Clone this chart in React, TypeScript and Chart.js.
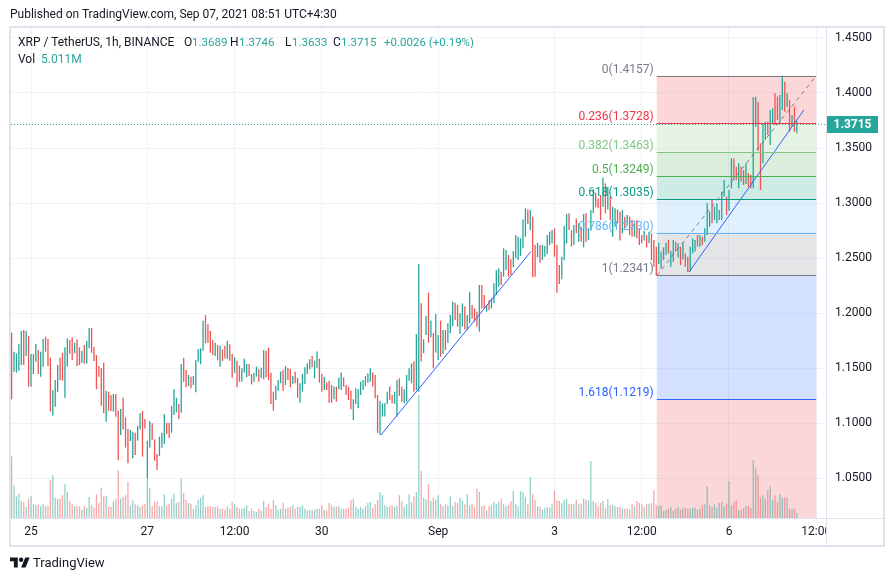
import React, { useEffect, useRef } from 'react';
import { Chart, registerables } from 'chart.js';

Chart.register(...registerables);

const GREEN = '#26a69a';
const RED = '#ef5350';
const TEXT = '#131722';
const FONT = 'Roboto, "Liberation Sans", Arial, sans-serif';

// ---- candle data (1h, index 0 = Aug 24 16:00 UTC) ----
const highs = [
  // Aug 24 16:00 .. Aug 27 02:00
  1.1821,1.1648,1.1633,1.1718,1.1836,1.1845,1.1836,1.1791,1.1627,1.1627,
  1.1718,1.1663,1.1648,1.1763,1.1785,1.1763,1.1594,1.1300,1.1391,1.1527,
  1.1594,1.1639,1.1688,1.1770,1.1754,1.1779,1.1730,1.1760,1.1688,1.1657,
  1.1709,1.1745,1.1863,1.1863,1.1694,1.1618,1.1518,1.1497,1.1548,1.1294,
  1.1285,1.1254,1.1264,1.1264,1.1112,1.1127,1.1230,1.1051,1.0945,1.0936,
  1.0921,1.0912,1.0973,1.1088,1.1109,1.1036,1.0839,1.1018,1.0997,
  // Aug 27 03:00 ..
  1.0851,1.0718,1.0876,1.0912,1.1082,1.1003,1.1003,1.1154,1.1306,1.1230,
  1.1173,1.1536,1.1594,1.1482,1.1436,1.1421,1.1427,1.1573,1.1673,1.1679,
  1.1930,1.1982,1.1897,1.1836,1.1754,1.1730,1.1709,1.1700,1.1670,1.1703,
  1.1748,1.1715,1.1627,1.1597,1.1567,1.1521,1.1497,1.1585,1.1536,1.1536,
  1.1445,1.1457,1.1512,1.1488,1.1503,1.1663,1.1657,1.1685,1.1457,1.1285,
  1.1339,1.1391,1.1467,1.1482,1.1518,1.1503,1.1491,1.1427,1.1467,1.1412,
  // Aug 29 15:00 ..
  1.1361,1.1446,1.1506,1.1543,1.1579,1.1609,1.1567,1.1649,1.1585,1.1446,
  1.1421,1.1370,1.1385,1.1346,1.1331,1.1331,1.1412,1.1458,1.1415,1.1346,
  1.1331,1.1294,1.1215,1.1315,1.1306,1.1376,1.1391,1.1427,1.1452,1.1497,
  1.1458,1.1436,1.1255,1.1203,1.1179,1.1179,1.1285,1.1331,1.1255,1.1285,
  1.1391,1.1406,1.1331,1.1306,1.1436,1.1497,1.1543,1.1558,1.1809,1.2445,
  1.2088,1.1761,1.1973,1.2185,1.1931,1.1815,1.1991,1.1800,1.1930,1.1845,
  1.1845,1.1906,
  // Sep 1 05:00 ..
  1.1982,1.2103,1.2094,1.2073,1.1997,1.2088,1.2058,1.1982,1.2194,1.2073,
  1.2042,1.2012,1.2254,1.2254,1.2164,1.2073,1.2118,1.2133,1.2270,1.2391,
  1.2406,1.2376,1.2588,1.2573,1.2527,1.2488,1.2564,1.2709,1.2694,1.2679,
  1.2851,1.2951,1.2942,1.2936,1.2876,1.2618,1.2639,1.2618,1.2618,1.2609,
  1.2709,1.2739,1.2754,1.2770,1.2618,1.2436,1.2512,1.2791,1.2900,1.2906,
  1.2754,1.2800,1.2860,1.2815,1.2785,1.2900,1.2906,1.2770,
  // Sep 3 15:00 ..
  1.2936,1.3124,1.3094,1.3042,1.3073,1.3230,1.3179,1.3148,1.3058,1.2967,
  1.2952,1.2942,1.2921,1.2936,1.2876,1.2891,1.2876,1.2845,1.2815,1.2845,
  1.2770,1.2709,1.2748,1.2709,1.2739,
  // Sep 4 16:00 ..
  1.2724,1.2664,1.2603,1.2639,1.2558,1.2597,1.2639,1.2664,1.2567,1.2664,
  1.2648,1.2633,1.2603,1.2639,1.2542,1.2512,1.2603,
  // Sep 5 09:00 .. Sep 7 04:00
  1.2679,1.2664,1.2709,1.2709,1.2694,1.2770,1.2997,1.2921,1.3027,1.2967,
  1.2997,1.2936,1.3103,1.3209,1.3058,1.3118,1.3406,1.3406,1.3330,1.3361,
  1.3330,1.3300,1.3361,1.3270,1.3255,1.3961,1.3967,1.3921,1.3542,1.3724,
  1.3739,1.3739,1.3845,1.3861,1.3997,1.3967,1.3982,1.4157,1.4103,1.3997,
  1.3936,1.3800,1.3876,1.3746,
];

const lows = [
  1.1215,1.1467,1.1457,1.1476,1.1527,1.1527,1.1609,1.1330,1.1330,1.1445,
  1.1557,1.1445,1.1421,1.1512,1.1648,1.1518,1.1103,1.1066,1.1148,1.1285,
  1.1391,1.1385,1.1230,1.1512,1.1627,1.1573,1.1633,1.1518,1.1527,1.1548,
  1.1542,1.1542,1.1679,1.1639,1.1563,1.1306,1.1421,1.1157,1.1088,1.1012,
  1.1112,1.1109,1.1103,1.1057,1.0663,1.0891,1.0942,1.0776,1.0633,1.0836,
  1.0679,1.0709,1.0839,1.0942,1.0694,1.0951,1.0500,1.0776,1.0845,
  1.0658,1.0573,1.0700,1.0776,1.0809,1.0900,1.0864,1.0912,1.1073,1.1097,
  1.1036,1.1094,1.1376,1.1324,1.1336,1.1315,1.1345,1.1279,1.1557,1.1533,
  1.1657,1.1724,1.1730,1.1639,1.1618,1.1609,1.1573,1.1512,1.1563,1.1588,
  1.1582,1.1567,1.1412,1.1457,1.1324,1.1376,1.1376,1.1457,1.1415,1.1427,
  1.1351,1.1376,1.1421,1.1376,1.1406,1.1397,1.1415,1.1391,1.1173,1.1112,
  1.1209,1.1294,1.1361,1.1294,1.1345,1.1391,1.1324,1.1354,1.1361,1.1230,
  1.1185,1.1285,1.1355,1.1446,1.1488,1.1506,1.1406,1.1497,1.1367,1.1285,
  1.1300,1.1300,1.1185,1.1185,1.1215,1.1194,1.1306,1.1300,1.1331,1.1255,
  1.1209,1.1124,1.1027,1.1173,1.1133,1.1255,1.1300,1.1336,1.1367,1.1376,
  1.1331,1.1224,1.0910,1.0890,1.1058,1.1058,1.1173,1.1209,1.1179,1.1173,
  1.1058,1.1246,1.1194,1.1179,1.1194,1.1385,1.1361,1.1285,1.1300,1.1285,
  1.1558,1.1634,1.1800,1.1731,1.1779,1.1497,1.1640,1.1573,1.1603,1.1627,
  1.1664,1.1730,
  1.1815,1.1882,1.1936,1.1876,1.1809,1.1876,1.1851,1.1845,1.1906,1.1951,
  1.1921,1.1876,1.1830,1.2042,1.2042,1.2012,1.2027,1.2042,1.2088,1.2164,
  1.2239,1.2254,1.2330,1.2391,1.2330,1.2345,1.2415,1.2497,1.2482,1.2518,
  1.2588,1.2694,1.2809,1.2754,1.2324,1.2330,1.2506,1.2457,1.2482,1.2512,
  1.2536,1.2618,1.2633,1.2512,1.2185,1.2264,1.2306,1.2482,1.2633,1.2754,
  1.2603,1.2618,1.2724,1.2648,1.2648,1.2597,1.2648,1.2664,
  1.2748,1.2906,1.2961,1.2952,1.2845,1.2967,1.2906,1.2942,1.2845,1.2694,
  1.2785,1.2815,1.2658,1.2724,1.2770,1.2800,1.2709,1.2694,1.2694,1.2679,
  1.2618,1.2633,1.2658,1.2597,1.2633,
  1.2480,1.2421,1.2341,1.2445,1.2406,1.2482,1.2527,1.2542,1.2421,1.2467,
  1.2558,1.2506,1.2436,1.2488,1.2421,1.2370,1.2380,
  1.2542,1.2558,1.2603,1.2603,1.2618,1.2648,1.2709,1.2785,1.2815,1.2845,
  1.2815,1.2845,1.2845,1.3058,1.2891,1.2930,1.3133,1.3209,1.3209,1.3133,
  1.3194,1.3164,1.3173,1.3148,1.3133,1.3133,1.3694,1.3476,1.3118,1.3361,
  1.3573,1.3618,1.3527,1.3724,1.3709,1.3755,1.3724,1.3845,1.3830,1.3876,
  1.3648,1.3694,1.3648,1.3633,
];

// 1 = close above open (green), 0 = close below open (red)
const upFlags = [
  0,1,1,1,1,0,1,0,1,1, 1,0,1,1,0,0,0,1,1,1, 0,0,1,1,0,0,1,0,0,1,
  0,1,1,0,0,0,0,0,0,1, 0,0,1,0,0,1,0,0,0,1, 1,0,1,1,0,0,1,1,0,
  0,0,1,1,1,0,0,1,1,1, 0,1,0,0,1,0,1,1,1,1, 1,0,0,0,0,1,0,1,0,0,
  1,0,0,1,0,0,1,1,1,0, 0,1,1,0,1,1,0,0,0,0, 1,1,1,0,1,0,0,1,0,0,
  1,1,1,1,1,0,1,1,0,0, 1,0,0,0,1,0,1,1,0,0, 0,0,1,1,1,1,1,1,1,1,
  0,0,0,1,1,1,1,0,0,1, 1,0,0,1,1,1,1,0,1,1, 0,1,1,0,1,0,1,1,0,1,
  0,1,
  1,1,0,0,1,1,0,1,1,0, 0,0,1,0,0,1,0,1,1,1, 1,0,1,1,0,0,1,1,1,1,
  1,1,0,1,0,0,1,0,1,1, 1,1,1,0,0,0,1,1,1,0, 0,1,0,1,0,1,0,1,
  1,1,0,0,0,1,0,1,0,1, 1,0,0,1,0,1,0,0,1,0, 0,0,1,0,1,
  0,0,0,1,1,1,1,0,1,1, 0,1,0,1,0,0,1,
  1,1,0,1,0,1,1,1,0,1, 1,1,1,1,0,1,1,0,0,1, 0,0,1,0,0,1,1,0,0,1,
  1,0,1,1,0,0,1,1,0,1, 0,1,0,1,
];

// volume, millions
const volumes = [
  61.7,32.7,21.7,24.3,16.7,16,11,19.3,21.7,13.7,
  12.7,13.7,11.7,13.7,11.7,11.7,37.7,42.7,20.3,19.3,
  19.3,22.7,33.7,26,17,14.3,11.7,11.7,11.7,8.3,
  11.7,10.3,21,12.7,10.3,23.7,15,30.3,21.7,21.7,
  11.7,11,17,19.3,47.7,19.3,21,22.7,36,12.7,
  17.7,13.7,12.7,11,12.7,14.3,40.3,30.3,11.7,16,
  17,11.7,11.7,23.7,12.7,14.3,19.3,24.3,15,16,
  39.3,25,18.3,15,13.7,9.3,12.7,18.3,20.3,22.7,
  11,11.7,11.7,11,11,11.7,9.3,9.3,8.3,11.7,
  9.3,16,13.7,11,9.3,9.3,10.3,12.7,7,9.3,
  7,6,9.3,7,17,11,14.3,9.3,17.7,12.7,
  8.3,9.3,15,9.3,10.3,11,12.7,9.3,11,11,
  12.7,9.3,7.7,8.3,7.7,8.3,9.3,9.3,12.7,7.7,
  7.7,15,12.7,11,11.7,11.7,9.3,9.3,9.3,10.3,
  17.7,19.3,11,9.3,11,9.3,11.7,15,16,10.3,
  13.7,18.3,26,22.7,12.7,11,11.7,12.7,11,11.7,
  22.7,17,11,13.7,23.7,16,21.7,26,122.7,
  47,20.3,18.3,33.7,17,20.3,18.3,22.7,13.7,11.7,
  13.7,12.7,21.7,11.7,16,15,20.3,17.7,13.7,23.7,
  12.7,13.7,11,29.3,26,11.7,12.7,7.7,11.7,12.7,
  16,13.7,16,19.3,13.7,11.7,12.7,17,27,13.7,
  11.7,27,26,21,13.7,41,24.3,17.7,11.7,11,
  8.3,10.3,11,10.3,13.7,27,17.7,17,15,18.3,
  19.3,14.3,14.3,13.7,18.3,13.7,14.3,19.3,18.3,17.7,
  57,17,15,11.7,15,17,10.3,19.3,12.7,12.7,
  11.7,11,11,9.3,9.3,9.3,8.3,13.7,11.7,17,
  15,13.7,11,14.3,14.3,15,27.7,12.7,11.7,12.7,
  7,8.3,9.3,11,7,9.3,11,8.3,10.3,10.3,
  9.3,9.3,10.3,10.3,8.3,9.3,12.7,13.7,31.7,12.7,
  11,13.7,10.3,15,16,11.7,14.3,37,12.7,16,
  17.7,8.3,8.3,10.3,11.7,11.7,10.3,57.7,49.3,42.7,
  20.3,22.7,19.3,27.7,31.7,18.3,22.7,16,23.7,20.3,
  21,20.3,9.3,9.3,9.3,5,
];

// time axis (hour index) and its labels
const timeTicks = [8, 56, 92, 128, 176, 224, 260, 296, 332];
const timeLabels = ['25', '27', '12:00', '30', 'Sep', '3', '12:00', '6', '12:00'];
const priceTicks = [1.05, 1.1, 1.15, 1.2, 1.25, 1.3, 1.35, 1.4, 1.45];

// fibonacci retracement drawing
const fibLow = 1.2341;
const fibHigh = 1.4157;
const fibStartIdx = 266.2;
const fibEndIdx = 332;
const fibLevels = [0, 0.236, 0.382, 0.5, 0.618, 0.786, 1, 1.618, 2.618];
const fibColors = ['#787b86', '#f23645', '#81c784', '#4caf50', '#089981', '#64b5f6', '#787b86', '#2962ff', '#f23645'];

// trend lines (hour index, price)
const trendA = [{ x: 152.4, y: 1.0891 }, { x: 214.3, y: 1.2560 }];
const trendB = [{ x: 279.5, y: 1.2373 }, { x: 326.9, y: 1.3845 }];

const lastPrice = 1.3715;
const lastOHLC = { o: '1.3689', h: '1.3746', l: '1.3633', c: '1.3715', chg: '+0.0026 (+0.19%)', vol: '5.011M' };

function rgba(hex: string, a: number) {
  const n = parseInt(hex.slice(1), 16);
  return `rgba(${(n >> 16) & 255},${(n >> 8) & 255},${n & 255},${a})`;
}
const fibPrice = (lv: number) => fibLow + (1 - lv) * (fibHigh - fibLow);

const overlayPlugin = {
  id: 'tvOverlay',
  beforeDatasetsDraw(chart: any) {
    const { ctx, chartArea: a } = chart;
    const xs = chart.scales.x, ys = chart.scales.y;
    const x0 = xs.getPixelForValue(fibStartIdx);
    const x1 = xs.getPixelForValue(fibEndIdx);
    ctx.save();
    ctx.beginPath();
    ctx.rect(a.left, a.top, a.right - a.left, a.bottom - a.top);
    ctx.clip();
    for (let i = 0; i < fibLevels.length - 1; i++) {
      const yA = ys.getPixelForValue(fibPrice(fibLevels[i]));
      const yB = ys.getPixelForValue(fibPrice(fibLevels[i + 1]));
      ctx.fillStyle = rgba(fibColors[i + 1], 0.2);
      ctx.fillRect(x0, yA, x1 - x0, yB - yA);
    }
    ctx.restore();
  },
  afterDatasetsDraw(chart: any) {
    const { ctx, chartArea: a } = chart;
    const xs = chart.scales.x, ys = chart.scales.y;
    const x0 = xs.getPixelForValue(fibStartIdx);
    const x1 = xs.getPixelForValue(fibEndIdx);
    ctx.save();
    ctx.beginPath();
    ctx.rect(a.left, a.top, a.right - a.left, a.bottom - a.top);
    ctx.clip();
    ctx.font = `12px ${FONT}`;
    ctx.textAlign = 'right';
    ctx.textBaseline = 'alphabetic';
    fibLevels.forEach((lv, i) => {
      const p = fibPrice(lv);
      const py = Math.round(ys.getPixelForValue(p)) + 0.5;
      if (py < a.top || py > a.bottom) return;
      ctx.strokeStyle = fibColors[i];
      ctx.lineWidth = 1;
      ctx.beginPath();
      ctx.moveTo(x0, py);
      ctx.lineTo(x1, py);
      ctx.stroke();
      ctx.fillStyle = fibColors[i];
      ctx.fillText(`${lv}(${p.toFixed(4)})`, x0 - 3, py - 4);
    });
    // last price dotted line
    const ly = Math.round(ys.getPixelForValue(lastPrice)) + 0.5;
    ctx.strokeStyle = GREEN;
    ctx.setLineDash([1, 2]);
    ctx.beginPath();
    ctx.moveTo(a.left, ly);
    ctx.lineTo(a.right, ly);
    ctx.stroke();
    ctx.restore();
  },
  afterDraw(chart: any) {
    const { ctx, chartArea: a } = chart;
    const xs = chart.scales.x, ys = chart.scales.y;
    ctx.save();
    // frame and separators
    ctx.strokeStyle = '#e0e3eb';
    ctx.lineWidth = 1;
    ctx.beginPath();
    ctx.moveTo(a.right + 0.5, 27);
    ctx.lineTo(a.right + 0.5, 546);
    ctx.moveTo(10, a.bottom + 0.5);
    ctx.lineTo(884, a.bottom + 0.5);
    ctx.stroke();
    ctx.lineWidth = 2;
    ctx.strokeRect(10, 27, 874, 519);
    // price labels
    ctx.font = `12px ${FONT}`;
    ctx.fillStyle = TEXT;
    ctx.textAlign = 'left';
    ctx.textBaseline = 'middle';
    priceTicks.forEach((p) => {
      ctx.fillText(p.toFixed(4), a.right + 9, ys.getPixelForValue(p));
    });
    // last price tag
    const ly = ys.getPixelForValue(lastPrice);
    ctx.fillStyle = GREEN;
    ctx.fillRect(a.right + 1, Math.round(ly) - 8, 51, 17);
    ctx.fillStyle = '#ffffff';
    ctx.font = `bold 12px ${FONT}`;
    ctx.textAlign = 'center';
    ctx.fillText(lastPrice.toFixed(4), a.right + 26.5, Math.round(ly) + 0.5);
    // time labels (clipped at the price axis)
    ctx.beginPath();
    ctx.rect(a.left, a.bottom + 1, a.right - a.left, 27);
    ctx.clip();
    ctx.font = `12px ${FONT}`;
    ctx.fillStyle = TEXT;
    timeTicks.forEach((t, i) => {
      ctx.fillText(timeLabels[i], xs.getPixelForValue(t), a.bottom + 14);
    });
    ctx.restore();
  },
};

export default function App() {
  const ref = useRef<HTMLCanvasElement>(null);
  useEffect(() => {
    const candleData = highs.map((h, i) => ({ x: i, y: [lows[i], h] }));
    const volData = volumes.map((v, i) => ({ x: i, y: v }));
    const chart = new Chart(ref.current as HTMLCanvasElement, {
      type: 'bar',
      data: {
        datasets: [
          {
            type: 'line',
            data: trendA,
            borderColor: '#2962ff',
            borderWidth: 1,
            pointRadius: 0,
            yAxisID: 'y',
            order: 0,
          } as any,
          {
            type: 'line',
            data: trendB,
            borderColor: '#2962ff',
            borderWidth: 1,
            pointRadius: 0,
            yAxisID: 'y',
            order: 0,
          } as any,
          {
            type: 'line',
            data: [{ x: fibStartIdx, y: fibLow }, { x: fibEndIdx, y: fibHigh }],
            borderColor: '#787b86',
            borderWidth: 1,
            borderDash: [4, 4],
            pointRadius: 0,
            yAxisID: 'y',
            order: 0,
          } as any,
          {
            type: 'bar',
            data: candleData,
            backgroundColor: upFlags.map((u) => (u ? GREEN : RED)),
            barThickness: 1.3,
            inflateAmount: 0,
            grouped: false,
            yAxisID: 'y',
            order: 2,
          } as any,
          {
            type: 'bar',
            data: volData,
            backgroundColor: upFlags.map((u) => (u ? rgba(GREEN, 0.5) : rgba(RED, 0.5))),
            barThickness: 1.3,
            inflateAmount: 0,
            grouped: false,
            yAxisID: 'yv',
            order: 3,
          } as any,
        ],
      },
      options: {
        animation: false,
        responsive: false,
        maintainAspectRatio: false,
        devicePixelRatio: 1,
        events: [],
        layout: { padding: { left: 11, top: 28, right: 66, bottom: 63 } },
        plugins: { legend: { display: false }, tooltip: { enabled: false } },
        scales: {
          x: {
            type: 'linear',
            min: -0.2522,
            max: 336.023,
            offset: false,
            grid: { color: '#f0f3fa', offset: false, drawTicks: false },
            border: { display: false },
            ticks: { display: false, autoSkip: false },
            afterBuildTicks: (s: any) => {
              s.ticks = timeTicks.map((v) => ({ value: v }));
            },
          },
          y: {
            type: 'linear',
            position: 'right',
            min: 1.0136364,
            max: 1.4590909,
            grid: { color: '#f0f3fa', drawTicks: false },
            border: { display: false },
            ticks: { display: false },
            afterBuildTicks: (s: any) => {
              s.ticks = priceTicks.map((v) => ({ value: v }));
            },
          },
          yv: {
            type: 'linear',
            display: false,
            min: 0,
            max: 489,
          },
        },
      } as any,
      plugins: [overlayPlugin],
    });
    return () => chart.destroy();
  }, []);

  const span = (left: number, top: number, color: string, text: string, size = 12) => (
    <span style={{ position: 'absolute', left, top, color, fontSize: size, lineHeight: '14px', whiteSpace: 'nowrap' }}>{text}</span>
  );

  return (
    <div style={{ position: 'absolute', left: 0, top: 0, width: 892, height: 581, background: '#ffffff', fontFamily: FONT, overflow: 'hidden' }}>
      <canvas ref={ref} width={892} height={581} style={{ position: 'absolute', left: 0, top: 0 }} />
      {span(10, 7, TEXT, 'Published on TradingView.com, Sep 07, 2021 08:51 UTC+4:30')}
      {span(18, 35, TEXT, 'XRP / TetherUS, 1h, BINANCE')}
      {span(184, 35, TEXT, 'O')}
      {span(192, 35, GREEN, lastOHLC.o, 11.5)}
      {span(230, 35, TEXT, 'H')}
      {span(239, 35, GREEN, lastOHLC.h, 11.5)}
      {span(285, 35, TEXT, 'L')}
      {span(292, 35, GREEN, lastOHLC.l, 11.5)}
      {span(333, 35, TEXT, 'C')}
      {span(341, 35, GREEN, lastOHLC.c, 11.5)}
      {span(384, 35, GREEN, lastOHLC.chg, 11.5)}
      {span(18, 52, TEXT, 'Vol')}
      {span(41, 52, GREEN, lastOHLC.vol)}
      <svg style={{ position: 'absolute', left: 10, top: 555 }} width={20} height={16} viewBox="0 0 36 28">
        <path d="M14 22H7V11H0V4h14v18z" fill="#131722" />
        <circle cx="20" cy="8" r="4" fill="#131722" />
        <path d="M28 22h-8l7.5-18h8L28 22z" fill="#131722" />
      </svg>
      {span(33, 556, TEXT, 'TradingView', 13)}
    </div>
  );
}
